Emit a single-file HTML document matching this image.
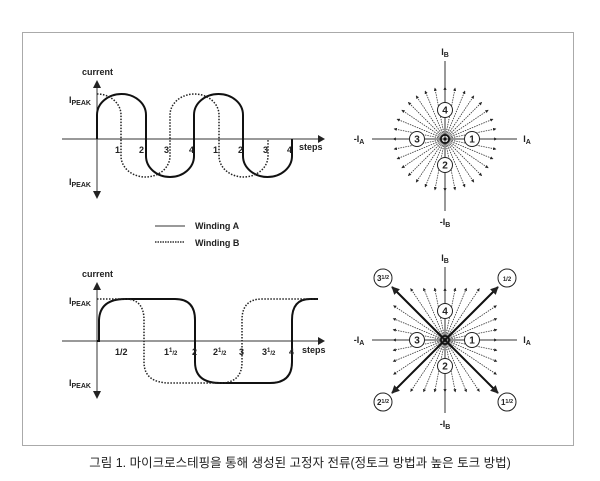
<!DOCTYPE html>
<html><head><meta charset="utf-8"><style>
html,body{margin:0;padding:0;background:#fff;}
body{width:600px;height:481px;position:relative;overflow:hidden;}
svg{position:absolute;left:0;top:0;}
text{font-family:"Liberation Sans",Arial,sans-serif;font-weight:bold;fill:#222;}
.cap{position:absolute;left:0;width:600px;top:452px;text-align:center;font-family:"Liberation Sans","Noto Sans CJK KR",sans-serif;font-size:12.5px;color:#222;}
</style></head><body>
<svg id="s" width="600" height="481" viewBox="0 0 600 481">
<defs>
<marker id="ah" viewBox="0 0 10 10" refX="9" refY="5" markerWidth="4" markerHeight="4" orient="auto"><path d="M0,0L10,5L0,10z" fill="#222"/></marker>
<marker id="ahb" viewBox="0 0 10 10" refX="9" refY="5" markerWidth="4" markerHeight="4" orient="auto"><path d="M0,0L10,5L0,10z" fill="#222"/></marker>
</defs>
<rect x="22.5" y="32.5" width="551" height="413" fill="none" stroke="#aaa" stroke-width="1"/>

<!-- Top chart -->
<g stroke="#333" stroke-width="1" fill="none">
<line x1="62" y1="139" x2="318" y2="139"/>
<line x1="97" y1="86" x2="97" y2="193"/>
</g>
<path d="M318,135 L325,139 L318,143z M93,88 L97,80 L101,88z M93,191 L97,199 L101,191z" fill="#222"/>
<path d="M97,139 L97,115 A24.5,21 0 0 1 146,115 L146,156 A24,21 0 0 0 194,156 L194,115 A24.5,21 0 0 1 243,115 L243,156 A24.5,21 0 0 0 292,156 L292,139" fill="none" stroke="#111" stroke-width="2"/>
<path d="M97,94 A24,21 0 0 1 121,115 L121,156 A24.5,21 0 0 0 170,156 L170,115 A24.5,21 0 0 1 219,115 L219,156 A24.5,21 0 0 0 268,156 L268,139" fill="none" stroke="#222" stroke-width="1.5" stroke-dasharray="1.5,1.5"/>
<g font-size="9">
<text x="82" y="75">current</text>
<text x="69" y="103">I<tspan font-size="7" dy="2">PEAK</tspan></text>
<text x="69" y="185">I<tspan font-size="7" dy="2">PEAK</tspan></text>
<text x="299" y="150">steps</text>
<text x="115" y="153">1</text><text x="139" y="153">2</text><text x="164" y="153">3</text><text x="189" y="153">4</text>
<text x="213" y="153">1</text><text x="238" y="153">2</text><text x="263" y="153">3</text><text x="287" y="153">4</text>
<text x="195" y="229">Winding A</text>
<text x="195" y="246">Winding B</text>
</g>
<line x1="155" y1="226" x2="185" y2="226" stroke="#333" stroke-width="1"/>
<line x1="155" y1="242" x2="185" y2="242" stroke="#333" stroke-width="1.5" stroke-dasharray="1.5,1"/>

<!-- Bottom chart -->
<g stroke="#333" stroke-width="1" fill="none">
<line x1="62" y1="341" x2="318" y2="341"/>
<line x1="97" y1="288" x2="97" y2="393"/>
</g>
<path d="M318,337 L325,341 L318,345z M93,290 L97,282 L101,290z M93,391 L97,399 L101,391z" fill="#222"/>
<path d="M97,341 L99,341 L99,320 Q100,299 125,299 L175,299 Q195,299 195,320 L195,362 Q195,383 220,383 L270,383 Q292,383 292,362 L292,320 Q292,299 310,299 L318,299" fill="none" stroke="#111" stroke-width="2"/>
<path d="M97,299 L125,299 Q144,299 144,320 L144,362 Q144,383 170,383 L220,383 Q242,383 242,362 L242,320 Q242,299 262,299 L318,299" fill="none" stroke="#222" stroke-width="1.5" stroke-dasharray="1.5,1.5"/>
<g font-size="9">
<text x="82" y="277">current</text>
<text x="69" y="304">I<tspan font-size="7" dy="2">PEAK</tspan></text>
<text x="69" y="386">I<tspan font-size="7" dy="2">PEAK</tspan></text>
<text x="302" y="353">steps</text>
<text x="115" y="355">1/2</text>
<text x="164" y="355">1<tspan font-size="6" dy="-3">1</tspan><tspan font-size="6" dy="3">/2</tspan></text>
<text x="192" y="355">2</text>
<text x="213" y="355">2<tspan font-size="6" dy="-3">1</tspan><tspan font-size="6" dy="3">/2</tspan></text>
<text x="239" y="355">3</text>
<text x="262" y="355">3<tspan font-size="6" dy="-3">1</tspan><tspan font-size="6" dy="3">/2</tspan></text>
<text x="289" y="355">4</text>
</g>

<g id="d1"></g>
<g id="d2"></g>
</svg>
<div class="cap">그림 1. 마이크로스테핑을 통해 생성된 고정자 전류(정토크 방법과 높은 토크 방법)</div>
<script>
var NS="http://www.w3.org/2000/svg";
function el(p,t,a){var e=document.createElementNS(NS,t);for(var k in a)e.setAttribute(k,a[k]);p.appendChild(e);return e;}
function diagram(g,cx,cy,square,top,bot){
  el(g,"line",{x1:cx,y1:top,x2:cx,y2:bot,stroke:"#333","stroke-width":1});
  el(g,"line",{x1:cx-73,y1:cy,x2:cx+72,y2:cy,stroke:"#333","stroke-width":1});
  for(var i=0;i<32;i++){
    var a=i*Math.PI/16,c=Math.cos(a),s=Math.sin(a);
    if(square&&i%8==4)continue;
    var r=square?52/Math.max(Math.abs(c),Math.abs(s)):52;
    if(square)r=Math.min(r,62);
    el(g,"line",{x1:cx+c*4,y1:cy-s*4,x2:cx+c*r,y2:cy-s*r,stroke:"#333","stroke-width":0.8,"stroke-dasharray":"1.5,1","marker-end":"url(#ah)"});
  }
  for(var rr=2;rr<=10;rr+=2)el(g,"circle",{cx:cx,cy:cy,r:rr,fill:"none",stroke:"#888","stroke-width":0.5});
  el(g,"circle",{cx:cx,cy:cy,r:4,fill:"none",stroke:"#111","stroke-width":1.5});
  el(g,"circle",{cx:cx,cy:cy,r:1.5,fill:"#111"});
  var pts=[[27,0,"1"],[0,26,"2"],[-28,0,"3"],[0,-29,"4"]];
  pts.forEach(function(p){
    el(g,"circle",{cx:cx+p[0],cy:cy+p[1],r:7.5,fill:"#fff",stroke:"#222","stroke-width":1});
    var t=el(g,"text",{x:cx+p[0],y:cy+p[1]+3.5,"font-size":10,"text-anchor":"middle"});t.textContent=p[2];
  });
  function lab(x,y,main,sub){var t=el(g,"text",{x:x,y:y,"font-size":9,"text-anchor":"middle"});t.textContent=main;var ts=el(t,"tspan",{"font-size":7,dy:2});ts.textContent=sub;}
  lab(cx,top-6,"I","B");lab(cx,bot+14,"-I","B");lab(cx-86,cy+3,"-I","A");lab(cx+82,cy+3,"I","A");
}
diagram(document.getElementById("d1"),445,139,false,61,211);
var g2=document.getElementById("d2");
diagram(g2,445,340,true,267,413);
[[1,-1,"1/2"],[1,1,"11/2"],[-1,1,"21/2"],[-1,-1,"31/2"]].forEach(function(d){
  el(g2,"line",{x1:445,y1:340,x2:445+d[0]*53,y2:340+d[1]*53,stroke:"#111","stroke-width":2,"marker-end":"url(#ahb)"});
  var x=445+d[0]*62,y=340+d[1]*62;
  el(g2,"circle",{cx:x,cy:y,r:9,fill:"#fff",stroke:"#222","stroke-width":1});
  var t=el(g2,"text",{x:x,y:y+3,"font-size":8,"text-anchor":"middle"});
  if(d[2]=="1/2"){var a=el(t,"tspan",{"font-size":6});a.textContent="1/2";}
  else{t.textContent=d[2][0];var b=el(t,"tspan",{"font-size":5.5,dy:-2});b.textContent="1/2";}
});
</script>
</body></html>
